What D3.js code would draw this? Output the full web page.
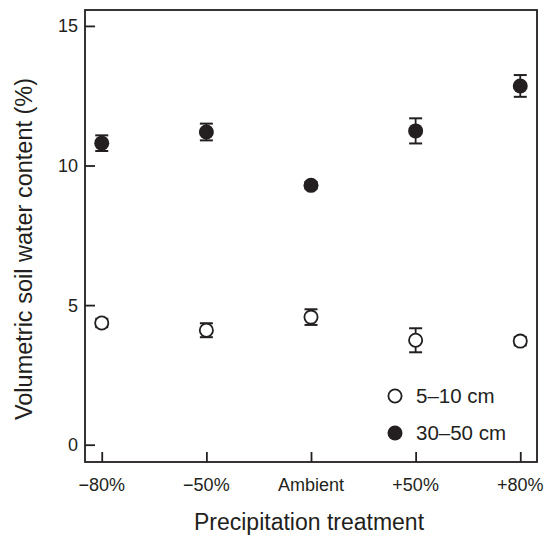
<!DOCTYPE html>
<html lang="en">
  <head>
    <meta charset="UTF-8" />
    <title>Volumetric soil water content</title>
    <script src="https://d3js.org/d3.v7.min.js"></script>
    <style>
      body { margin: 0; background: #fff; }
      text { font-family: "Liberation Sans", Arial, Helvetica, sans-serif; fill: #231f20; }
    </style>
  </head>
  <body>
    <svg width="545" height="536"></svg>

    <script>
      // data
      const treatments = ["−80%", "−50%", "Ambient", "+50%", "+80%"];
      const shallowMean = [4.36, 4.1, 4.57, 3.74, 3.71];   // 5–10 cm
      const shallowErr = [0.15, 0.25, 0.28, 0.43, 0.15];
      const deepMean = [10.8, 11.2, 9.29, 11.24, 12.85];    // 30–50 cm
      const deepErr = [0.28, 0.3, 0.12, 0.45, 0.39];
      const yTicks = [0, 5, 10, 15];
      const seriesNames = ["5–10 cm", "30–50 cm"];

      const svg = d3.select("svg");
      const box = { left: 85, right: 537, top: 10, bottom: 462 };
      const ink = "#231f20";

      const x = d3.scalePoint()
        .domain(treatments)
        .range([box.left, box.right])
        .padding(0.16);

      const y = d3.scaleLinear()
        .domain([-0.62, 15.57])
        .range([box.bottom, box.top]);

      // plot frame
      svg.append("rect")
        .attr("x", box.left)
        .attr("y", box.top)
        .attr("width", box.right - box.left)
        .attr("height", box.bottom - box.top)
        .style("fill", "none")
        .style("stroke", ink)
        .style("stroke-width", 1.8);

      // y axis (ticks pointing inward)
      const yAxis = svg.append("g")
        .attr("transform", `translate(${box.left},0)`)
        .call(d3.axisRight(y).tickValues(yTicks).tickSize(10).tickFormat(""));
      yAxis.select(".domain").remove();
      yAxis.selectAll("line").style("stroke", ink).style("stroke-width", 1.8);

      svg.selectAll(".ylab")
        .data(yTicks)
        .enter()
        .append("text")
        .attr("class", "ylab")
        .attr("x", box.left - 7)
        .attr("y", (d) => y(d))
        .attr("dy", "0.36em")
        .style("font-size", "18px")
        .style("text-anchor", "end")
        .text((d) => d);

      // x axis (ticks pointing inward)
      const xAxis = svg.append("g")
        .attr("transform", `translate(0,${box.bottom})`)
        .call(d3.axisTop(x).tickSize(10).tickFormat(""));
      xAxis.select(".domain").remove();
      xAxis.selectAll("line").style("stroke", ink).style("stroke-width", 1.8);

      svg.selectAll(".xlab")
        .data(treatments)
        .enter()
        .append("text")
        .attr("class", "xlab")
        .attr("x", (d) => x(d))
        .attr("y", 491)
        .style("font-size", "18px")
        .style("text-anchor", "middle")
        .text((d) => d);

      // axis titles
      svg.append("text")
        .attr("x", (box.left + box.right) / 2 - 2)
        .attr("y", 530)
        .style("font-size", "23px")
        .style("text-anchor", "middle")
        .text("Precipitation treatment");

      svg.append("text")
        .attr("transform", "translate(32,249) rotate(-90)")
        .style("font-size", "23.5px")
        .style("text-anchor", "middle")
        .text("Volumetric soil water content (%)");

      // error bars + points
      const r = 7.5;
      const cap = 6.5;
      function drawSeries(means, errs, filled) {
        const g = svg.append("g");
        means.forEach((m, i) => {
          const cx = x(treatments[i]);
          const lo = y(m - errs[i]);
          const hi = y(m + errs[i]);
          g.append("line")
            .attr("x1", cx).attr("x2", cx)
            .attr("y1", lo).attr("y2", hi)
            .style("stroke", ink).style("stroke-width", 1.8);
          [lo, hi].forEach((yy) => {
            g.append("line")
              .attr("x1", cx - cap).attr("x2", cx + cap)
              .attr("y1", yy).attr("y2", yy)
              .style("stroke", ink).style("stroke-width", 2);
          });
          g.append("circle")
            .attr("cx", cx)
            .attr("cy", y(m))
            .attr("r", filled ? r : r - 0.9)
            .style("fill", filled ? ink : "#fff")
            .style("stroke", ink)
            .style("stroke-width", filled ? 0 : 1.8);
        });
      }
      drawSeries(shallowMean, shallowErr, false);
      drawSeries(deepMean, deepErr, true);

      // legend
      const legend = svg.append("g");
      seriesNames.forEach((name, i) => {
        const ly = 396 + i * 37;
        legend.append("circle")
          .attr("cx", 395)
          .attr("cy", ly)
          .attr("r", i === 0 ? r - 0.9 : r)
          .style("fill", i === 0 ? "#fff" : ink)
          .style("stroke", ink)
          .style("stroke-width", i === 0 ? 1.8 : 0);
        legend.append("text")
          .attr("x", 416)
          .attr("y", ly)
          .attr("dy", "0.36em")
          .style("font-size", "20.5px")
          .text(name);
      });
    </script>
  </body>
</html>
